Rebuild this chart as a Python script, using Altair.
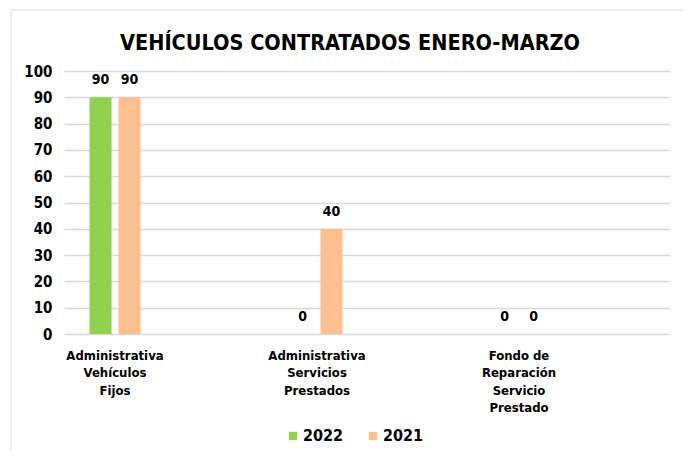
import altair as alt
import pandas as pd

categories = [
    "Administrativa|Vehículos|Fijos",
    "Administrativa|Servicios|Prestados",
    "Fondo de|Reparación|Servicio|Prestado",
]
years = ["2022", "2021"]
values_2022 = [90, 0, 0]
values_2021 = [90, 40, 0]
colors = ["#92D050", "#FAC090"]
y_ticks = list(range(0, 101, 10))
title_text = ["VEHÍCULOS CONTRATADOS ENERO-MARZO"]

rows = []
for c, v22, v21 in zip(categories, values_2022, values_2021):
    rows.append({"cat": c, "year": "2022", "value": v22})
    rows.append({"cat": c, "year": "2021", "value": v21})
df = pd.DataFrame(rows)

FONT = "DejaVu Sans Condensed"

x_enc = alt.X(
    "cat:N",
    sort=categories,
    title=None,
    scale=alt.Scale(paddingInner=0.495, paddingOuter=0.2475, align=0),
    axis=alt.Axis(
        labelAngle=0,
        labelExpr="split(datum.label, '|')",
        labelFont=FONT,
        labelFontWeight="bold",
        labelFontSize=13,
        labelLineHeight=17.5,
        labelPadding=15,
        labelColor="black",
        ticks=False,
        domain=False,
        grid=False,
        labelLimit=0,
    ),
)
xoff_enc = alt.XOffset(
    "year:N", sort=years, scale=alt.Scale(paddingInner=0.241, paddingOuter=0.879)
)
y_enc = alt.Y(
    "value:Q",
    title=None,
    scale=alt.Scale(domain=[0, 100]),
    axis=alt.Axis(
        values=y_ticks,
        labelFont=FONT,
        labelFontWeight="bold",
        labelFontSize=15,
        labelColor="black",
        labelPadding=12,
        ticks=False,
        domain=False,
        grid=True,
        gridColor="#d9d9d9",
        gridWidth=1.3,
    ),
)
color_enc = alt.Color(
    "year:N",
    sort=years,
    scale=alt.Scale(domain=years, range=colors),
    legend=alt.Legend(
        orient="none",
        legendX=221,
        legendY=357,
        direction="horizontal",
        title=None,
        symbolType="square",
        symbolSize=70,
        symbolStrokeWidth=0,
        labelFont=FONT,
        labelFontSize=16,
        labelFontWeight="bold",
        labelColor="black",
        columnPadding=21,
        labelOffset=2,
    ),
)

base = alt.Chart(df)
bars = base.mark_bar().encode(x=x_enc, xOffset=xoff_enc, y=y_enc, color=color_enc)
labels = base.mark_text(
    baseline="alphabetic", dy=-13, font=FONT, fontWeight="bold", fontSize=14, color="black"
).encode(x=x_enc, xOffset=xoff_enc, y=y_enc, text="value:Q")

frame = alt.Chart(pd.DataFrame({"a": [0]})).mark_rect(
    fill=None, stroke="#d9d9d9", strokeWidth=1
).encode(
    x=alt.value(-53), x2=alt.value(625), y=alt.value(-61), y2=alt.value(385)
)

title = alt.Chart(pd.DataFrame({"t": title_text})).mark_text(
    font=FONT, fontSize=21.5, fontWeight="bold", color="black",
    align="center", baseline="alphabetic",
).encode(text="t:N", x=alt.value(286), y=alt.value(-21.5))

chart = (
    alt.layer(frame, bars, labels, title)
    .properties(
        width=606,
        height=263,
        autosize=alt.AutoSizeParams(type="none"),
        padding={"left": 56, "top": 63, "right": 13, "bottom": 116},
    )
    .configure_view(stroke=None)
)

chart.save("out.html", embed_options={"renderer": "svg", "actions": False})
